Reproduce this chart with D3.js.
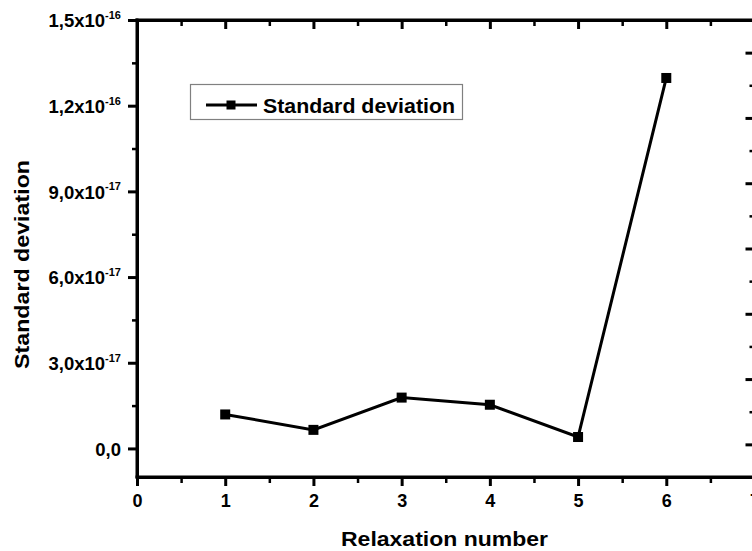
<!DOCTYPE html>
<html>
<head>
<meta charset="utf-8">
<script src="https://cdn.jsdelivr.net/npm/d3@7"></script>
<style>
  html, body { margin: 0; padding: 0; background: #fff; }
  svg { display: block; font-family: "Liberation Sans", Arial, sans-serif; font-weight: bold; }
</style>
</head>
<body>
<svg id="chart" width="752" height="551"></svg>
<script>
// ---- data ----
const relaxation = [1, 2, 3, 4, 5, 6];
const stdDev = [1.19e-17, 0.65e-17, 1.78e-17, 1.53e-17, 0.40e-17, 1.297e-16];
const xTicks = [0, 1, 2, 3, 4, 5, 6, 7];
const yTickValues = [0, 3e-17, 6e-17, 9e-17, 1.2e-16, 1.5e-16];
const yTickMantissa = ["0,0", "3,0x10", "6,0x10", "9,0x10", "1,2x10", "1,5x10"];
const yTickExponent = ["", "-17", "-17", "-17", "-16", "-16"];
const rightTicks = [0, 1, 2, 3, 4, 5, 6];
const seriesName = "Standard deviation";
const xTitle = "Relaxation number";
const yTitle = "Standard deviation";

(function () {
// ---- layout ----
const svg = d3.select("#chart");
const pLeft = 137, pRight = 754.5, pTop = 20, pBottom = 477;
const x = d3.scaleLinear().domain([0, 7]).range([pLeft, pRight]);
const y = d3.scaleLinear().domain([-1e-17, 1.5e-16]).range([pBottom, pTop]);
const yR = d3.scaleLinear().domain([-0.5, 6.5]).range([pBottom, pTop]);

const xMinor = d3.range(0.5, 7, 1);
const yMinor = d3.range(1.5e-17, 1.5e-16, 3e-17);
const rMinor = d3.range(0.5, 6, 1);

function styleAxis(g, w) {
  g.selectAll("path.domain").attr("stroke", "#000").attr("stroke-width", 3);
  g.selectAll(".tick line").attr("stroke", "#000").attr("stroke-width", w);
  g.selectAll(".tick text").remove();
}

// minor ticks
svg.append("g").attr("transform", `translate(0,${pBottom})`)
  .call(d3.axisBottom(x).tickValues(xMinor).tickSize(6).tickSizeOuter(0))
  .call(g => styleAxis(g, 2.5));
svg.append("g").attr("transform", `translate(0,${pTop})`)
  .call(d3.axisBottom(x).tickValues(xMinor).tickSize(6).tickSizeOuter(0))
  .call(g => styleAxis(g, 2.5));
svg.append("g").attr("transform", `translate(${pLeft},0)`)
  .call(d3.axisLeft(y).tickValues(yMinor).tickSize(5).tickSizeOuter(0))
  .call(g => styleAxis(g, 2.5));
svg.append("g").attr("transform", `translate(${pRight},0)`)
  .call(d3.axisLeft(yR).tickValues(rMinor).tickSize(5).tickSizeOuter(0))
  .call(g => styleAxis(g, 2.5));

// major ticks
const gx = svg.append("g").attr("transform", `translate(0,${pBottom})`)
  .call(d3.axisBottom(x).tickValues(xTicks).tickSize(9).tickSizeOuter(0))
  .call(g => styleAxis(g, 3));
svg.append("g").attr("transform", `translate(0,${pTop})`)
  .call(d3.axisBottom(x).tickValues(xTicks).tickSize(9).tickSizeOuter(0))
  .call(g => styleAxis(g, 3));
const gy = svg.append("g").attr("transform", `translate(${pLeft},0)`)
  .call(d3.axisLeft(y).tickValues(yTickValues).tickSize(9).tickSizeOuter(0))
  .call(g => styleAxis(g, 3));
svg.append("g").attr("transform", `translate(${pRight},0)`)
  .call(d3.axisLeft(yR).tickValues(rightTicks).tickSize(9).tickSizeOuter(0))
  .call(g => styleAxis(g, 3));

// frame lines
svg.append("line").attr("x1", pLeft).attr("x2", pLeft).attr("y1", pTop - 1.5).attr("y2", pBottom + 1.5)
  .attr("stroke", "#000").attr("stroke-width", 3);
svg.append("line").attr("x1", pLeft - 1.5).attr("x2", pRight + 1.5).attr("y1", pBottom).attr("y2", pBottom)
  .attr("stroke", "#000").attr("stroke-width", 3);
svg.append("line").attr("x1", pLeft - 1.5).attr("x2", pRight + 1.5).attr("y1", pTop).attr("y2", pTop)
  .attr("stroke", "#000").attr("stroke-width", 3);

// x tick labels
gx.selectAll(".tick").append("text")
  .attr("y", 29.5).attr("text-anchor", "middle")
  .attr("fill", "#000").attr("font-size", 18).attr("font-weight", "bold")
  .text(d => d);

// y tick labels with superscript exponents
gy.selectAll(".tick").each(function (d, i) {
  const t = d3.select(this).append("text")
    .attr("x", -16).attr("dy", "0.37em").attr("text-anchor", "end")
    .attr("fill", "#000").attr("font-size", 18.5).attr("font-weight", "bold");
  t.append("tspan").text(yTickMantissa[i]);
  if (yTickExponent[i]) {
    t.append("tspan").attr("dy", -8.5).attr("font-size", 11).text(yTickExponent[i]);
  }
});

// data line and markers
const line = d3.line().x((d, i) => x(relaxation[i])).y(d => y(d));
svg.append("path").datum(stdDev)
  .attr("d", line).attr("fill", "none").attr("stroke", "#000").attr("stroke-width", 3)
  .attr("stroke-linejoin", "miter");
svg.selectAll("rect.pt").data(stdDev).enter().append("rect")
  .attr("class", "pt")
  .attr("x", (d, i) => x(relaxation[i]) - 5).attr("y", d => y(d) - 5)
  .attr("width", 10).attr("height", 10).attr("fill", "#000");

// legend
const lg = svg.append("g");
lg.append("rect").attr("x", 190.5).attr("y", 84.5).attr("width", 272).attr("height", 35)
  .attr("fill", "#fff").attr("stroke", "#808080").attr("stroke-width", 1.2);
lg.append("line").attr("x1", 206).attr("x2", 257).attr("y1", 105).attr("y2", 105)
  .attr("stroke", "#000").attr("stroke-width", 3);
lg.append("rect").attr("x", 226.5).attr("y", 100.5).attr("width", 9).attr("height", 9).attr("fill", "#000");
lg.append("text").attr("x", 263).attr("y", 113)
  .attr("font-size", 20).attr("font-weight", "bold").attr("fill", "#000")
  .attr("textLength", 192).attr("lengthAdjust", "spacingAndGlyphs")
  .text(seriesName);

// axis titles
svg.append("text").attr("x", 444.5).attr("y", 546).attr("text-anchor", "middle")
  .attr("font-size", 21).attr("font-weight", "bold").attr("fill", "#000")
  .attr("textLength", 207).attr("lengthAdjust", "spacingAndGlyphs")
  .text(xTitle);
svg.append("text").attr("transform", "translate(29,264.5) rotate(-90)").attr("text-anchor", "middle")
  .attr("font-size", 21).attr("font-weight", "bold").attr("fill", "#000")
  .attr("textLength", 209).attr("lengthAdjust", "spacingAndGlyphs")
  .text(yTitle);
})();
</script>
</body>
</html>
